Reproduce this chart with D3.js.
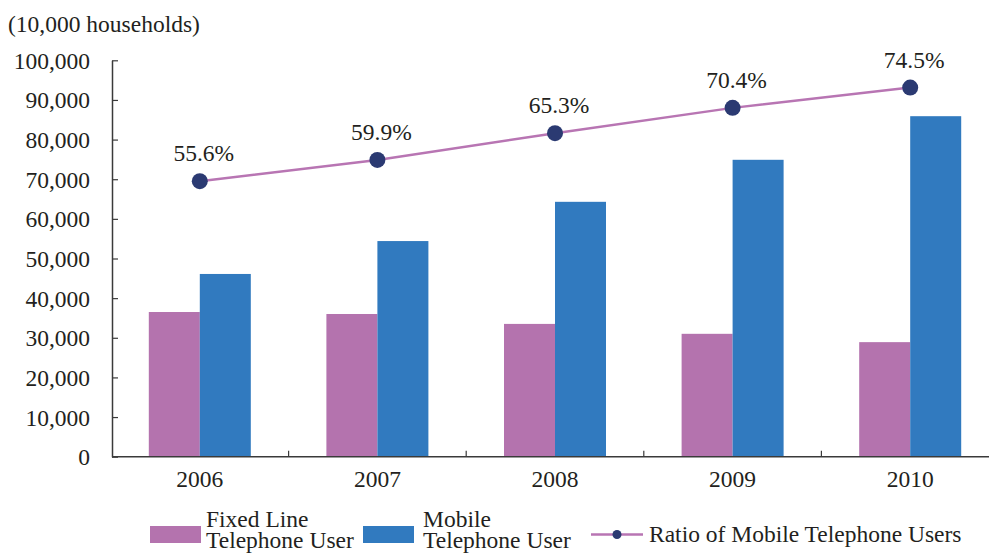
<!DOCTYPE html>
<html>
<head>
<meta charset="utf-8">
<script src="https://cdn.jsdelivr.net/npm/d3@7"></script>
<style>
  html, body { margin: 0; padding: 0; background: #fff; }
  svg { display: block; font-family: "Liberation Serif", "Times New Roman", serif; }
</style>
</head>
<body>
<svg id="chart" width="989" height="553"></svg>
<script>
// Households subscribing to each service (10,000 households)
const years = ["2006", "2007", "2008", "2009", "2010"];
const fixedLine = [36500, 36000, 33500, 31000, 28900];
const mobile = [46100, 54400, 64300, 74900, 85900];
// Share of mobile telephone users (%)
const ratio = [55.6, 59.9, 65.3, 70.4, 74.5];
const yTicks = [0, 10000, 20000, 30000, 40000, 50000, 60000, 70000, 80000, 90000, 100000];

const colors = { fixed: "#b473ae", mobile: "#317abf", line: "#b875b3", dot: "#2b3a72", text: "#231f20", axis: "#3a3a3a" };
const fontSize = 23.5;
const serif = "Liberation Serif, Times New Roman, serif";

const svg = d3.select("#chart");
const plotLeft = 112, plotTop = 60.3, plotBottom = 456.7;

const x = d3.scaleBand().domain(years).range([111, 111 + 5 * 177.6]).padding(0);
const y = d3.scaleLinear().domain([0, 100000]).range([plotBottom, plotTop]);
const yRatio = d3.scaleLinear().domain([0, 80]).range([plotBottom, plotTop]);
const barW = 51;
const xSeries = d3.scaleBand().domain(["fixed", "mobile"]).range([-barW, barW]).padding(0);

// unit label
svg.append("text")
  .attr("x", 8).attr("y", 31.5)
  .attr("font-size", fontSize).attr("fill", colors.text)
  .text("(10,000 households)");

// bars
const groups = svg.append("g").selectAll("g")
  .data(years).join("g")
  .attr("transform", d => `translate(${x(d) + x.bandwidth() / 2},0)`);

groups.append("rect")
  .attr("x", xSeries("fixed")).attr("width", xSeries.bandwidth())
  .attr("y", (d, i) => y(fixedLine[i])).attr("height", (d, i) => y(0) - y(fixedLine[i]))
  .attr("fill", colors.fixed);

groups.append("rect")
  .attr("x", xSeries("mobile")).attr("width", xSeries.bandwidth())
  .attr("y", (d, i) => y(mobile[i])).attr("height", (d, i) => y(0) - y(mobile[i]))
  .attr("fill", colors.mobile);

// left axis, ticks pointing inward
const yAxis = d3.axisLeft(y).tickValues(yTicks)
  .tickFormat(d3.format(",")).tickSizeInner(-6).tickSizeOuter(0).tickPadding(22);
const gy = svg.append("g").attr("transform", `translate(${plotLeft},0)`).call(yAxis)
  .attr("font-family", serif);
gy.select(".domain").attr("stroke", colors.axis).attr("stroke-width", 1.5);
gy.selectAll(".tick line").attr("stroke", colors.axis).attr("stroke-width", 1.2);
gy.selectAll(".tick text").attr("font-size", fontSize).attr("fill", colors.text)
  .attr("font-family", serif).attr("dy", "0.34em");

// bottom axis: baseline, separators between years, year labels
svg.append("line")
  .attr("x1", plotLeft).attr("x2", 989).attr("y1", plotBottom).attr("y2", plotBottom)
  .attr("stroke", colors.axis).attr("stroke-width", 1.5);
svg.append("g").selectAll("line")
  .data(years.slice(1)).join("line")
  .attr("x1", d => x(d)).attr("x2", d => x(d))
  .attr("y1", plotBottom).attr("y2", plotBottom - 6)
  .attr("stroke", colors.axis).attr("stroke-width", 1.2);
svg.append("g").selectAll("text")
  .data(years).join("text")
  .attr("x", d => x(d) + x.bandwidth() / 2).attr("y", 487)
  .attr("text-anchor", "middle").attr("font-size", fontSize).attr("fill", colors.text)
  .text(d => d);

// ratio line with markers and value labels
const pts = years.map((d, i) => [x(d) + x.bandwidth() / 2, yRatio(ratio[i]), ratio[i]]);
svg.append("path")
  .datum(pts)
  .attr("d", d3.line().x(d => d[0]).y(d => d[1]))
  .attr("fill", "none").attr("stroke", colors.line).attr("stroke-width", 2.5);
svg.append("g").selectAll("circle")
  .data(pts).join("circle")
  .attr("cx", d => d[0]).attr("cy", d => d[1]).attr("r", 8)
  .attr("fill", colors.dot);
svg.append("g").selectAll("text")
  .data(pts).join("text")
  .attr("x", d => d[0] + 4).attr("y", d => d[1] - 20)
  .attr("text-anchor", "middle").attr("font-size", fontSize).attr("fill", colors.text)
  .text(d => d[2].toFixed(1) + "%");

// legend
const legend = svg.append("g");
legend.append("rect").attr("x", 150).attr("y", 526).attr("width", 51).attr("height", 17).attr("fill", colors.fixed);
legend.append("text").attr("x", 206).attr("y", 527).attr("font-size", fontSize).attr("fill", colors.text)
  .call(t => {
    t.append("tspan").attr("x", 206).text("Fixed Line");
    t.append("tspan").attr("x", 206).attr("dy", 20.5).text("Telephone User");
  });
legend.append("rect").attr("x", 363).attr("y", 526).attr("width", 51).attr("height", 17).attr("fill", colors.mobile);
legend.append("text").attr("x", 423).attr("y", 527).attr("font-size", fontSize).attr("fill", colors.text)
  .call(t => {
    t.append("tspan").attr("x", 423).text("Mobile");
    t.append("tspan").attr("x", 423).attr("dy", 20.5).text("Telephone User");
  });
legend.append("line").attr("x1", 591).attr("x2", 643).attr("y1", 534.5).attr("y2", 534.5)
  .attr("stroke", colors.line).attr("stroke-width", 2.5);
legend.append("circle").attr("cx", 617).attr("cy", 534.5).attr("r", 4.5).attr("fill", colors.dot);
legend.append("text").attr("x", 649).attr("y", 541.5).attr("font-size", fontSize).attr("fill", colors.text)
  .text("Ratio of Mobile Telephone Users");
</script>
</body>
</html>
